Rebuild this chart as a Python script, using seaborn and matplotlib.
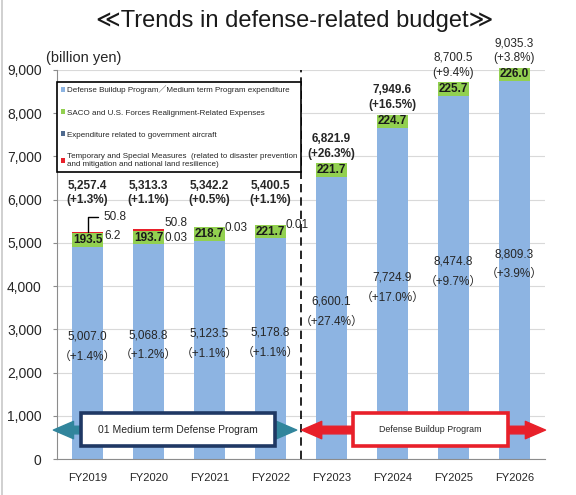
import numpy as np
import pandas as pd
import seaborn as sns
import matplotlib.pyplot as plt
from matplotlib.patches import Patch, Rectangle
from matplotlib.lines import Line2D
from matplotlib.ticker import FuncFormatter

years = ["FY2019", "FY2020", "FY2021", "FY2022", "FY2023", "FY2024", "FY2025", "FY2026"]
base = [5007.0, 5068.8, 5123.5, 5178.8, 6600.1, 7724.9, 8474.8, 8809.3]
base_growth = ["+1.4%", "+1.2%", "+1.1%", "+1.1%", "+27.4%", "+17.0%", "+9.7%", "+3.9%"]
saco = [193.5, 193.7, 218.7, 221.7, 221.7, 224.7, 225.7, 226.0]
aircraft = [6.2, 0.03, 0.03, 0.01, 0, 0, 0, 0]
special = [50.8, 50.8, 0, 0, 0, 0, 0, 0]
totals = [5257.4, 5313.3, 5342.2, 5400.5, 6821.9, 7949.6, 8700.5, 9035.3]
total_growth = ["+1.3%", "+1.1%", "+0.5%", "+1.1%", "+26.3%", "+16.5%", "+9.4%", "+3.8%"]
legend_labels = [
    "Defense Buildup Program／Medium term Program expenditure",
    "SACO and U.S. Forces Realignment-Related Expenses",
    "Expenditure related to government aircraft",
    "Temporary and Special Measures  (related to disaster prevention\nand mitigation and national land resilience)",
]
programs = ["01 Medium term Defense Program", "Defense Buildup Program"]

BLUE = "#8db4e2"
GREEN = "#92d050"
GRAY = "#4f6a8f"
RED = "#e8202a"
TEAL = "#31859c"
NAVY = "#1f3864"
TXT = "#262626"

sns.set_style("white")
plt.rcParams["font.family"] = ["Liberation Sans", "DejaVu Sans", "Noto Sans CJK JP"]

df = pd.DataFrame({"year": years, "base": base, "saco": saco,
                   "aircraft": aircraft, "special": special})
df["lvl1"] = df["base"]
df["lvl2"] = df["lvl1"] + df["saco"]
df["lvl3"] = df["lvl2"] + df["aircraft"]
df["lvl4"] = df["lvl3"] + df["special"]

fig = plt.figure(figsize=(5.76, 4.95), dpi=100)
ax = fig.add_axes([0.099, 0.0727, 0.847, 0.786])

# stacked bars: draw cumulative heights back to front
for col, color in [("lvl4", RED), ("lvl3", GRAY), ("lvl2", GREEN), ("lvl1", BLUE)]:
    sns.barplot(data=df, x="year", y=col, color=color, width=0.5, saturation=1,
                errorbar=None, linewidth=0, ax=ax, zorder=2)

ax.set_xlim(-0.5, 7.5)
ax.set_ylim(0, 9000)
ax.set_yticks(np.arange(0, 9001, 1000))
ax.yaxis.set_major_formatter(FuncFormatter(lambda v, p: f"{v:,.0f}"))
ax.set_xlabel("")
ax.set_ylabel("")
ax.yaxis.grid(True, color="#d9d9d9", lw=0.8)
ax.set_axisbelow(True)
for s in ["top", "right"]:
    ax.spines[s].set_visible(False)
for s in ["left", "bottom"]:
    ax.spines[s].set_color("#8c8c8c")
ax.set_xticks(np.arange(-0.5, 8, 1), minor=True)
ax.tick_params(axis="x", which="major", length=0, labelsize=8, pad=10, labelcolor=TXT)
ax.tick_params(axis="x", which="minor", length=3, color="#8c8c8c", direction="out")
ax.tick_params(axis="y", length=3, color="#8c8c8c", labelsize=10, pad=8, left=True,
               labelcolor=TXT)

# divider between the two programs
ax.plot([3.5, 3.5], [0, 9000], color="black", lw=1.2, ls=(0, (5, 3)), zorder=3)

for i in range(len(years)):
    lvl2 = df["lvl2"][i]
    tot = df["lvl4"][i]
    # base value + growth inside the blue bar
    ax.text(i, base[i] / 2 + 100, f"{base[i]:,.1f}\n（{base_growth[i]}）", ha="center",
            va="center", fontsize=8.5, color=TXT, linespacing=1.9, zorder=4)
    # SACO label on green highlight
    ax.text(i, lvl2 - 140, f"{saco[i]:.1f}", ha="center", va="center", fontsize=8.5,
            fontweight="bold", color="#1a1a1a", zorder=5,
            bbox=dict(facecolor=GREEN, edgecolor="none", pad=0.6))
    # totals
    if i < 4:
        y1, y2 = 6320, 5990
    else:
        y1, y2 = tot + 580, tot + 230
    w = "bold" if i < 6 else "normal"
    ax.text(i, y1, f"{totals[i]:,.1f}", ha="center", va="center", fontsize=8.5,
            fontweight=w, color=TXT, clip_on=False)
    ax.text(i, y2, f"({total_growth[i]})", ha="center", va="center", fontsize=8.5,
            fontweight=w, color=TXT, clip_on=False)
    # small segments
    if special[i] > 0:
        callout = aircraft[i] >= 1
        ry = tot + (330 if callout else 150)
        ay = tot - (100 if callout else 200)
        ax.text(i + 0.27, ry, f"{special[i]:g}", ha="left", va="center",
                fontsize=8.5, color=TXT, zorder=5)
        ax.text(i + 0.27, ay, f"{aircraft[i]:g}", ha="left", va="center",
                fontsize=8.5, color=TXT, zorder=5)
        if callout:
            ax.plot([i, i, i + 0.18], [tot, ry, ry], color="black", lw=1, zorder=5)
    elif aircraft[i] > 0:
        ax.text(i + 0.25, tot + 10, f"{aircraft[i]:g}", ha="left", va="center",
                fontsize=8.5, color=TXT, zorder=5)

# legend
handles = [Patch(facecolor=c, edgecolor="none") for c in [BLUE, GREEN, GRAY, RED]]
leg = ax.legend(handles, legend_labels, loc="upper left", bbox_to_anchor=(0.0, 0.97),
                fontsize=5.8, frameon=True, fancybox=False, edgecolor="black",
                framealpha=1, handlelength=0.5, handleheight=0.5, handletextpad=0.2,
                labelspacing=1.85, borderaxespad=0, borderpad=0.5)
leg.get_frame().set_linewidth(1.2)
leg.get_texts()[3].set_linespacing(1.15)
leg.set_zorder(6)

# program arrows and boxes
arrow_y = 670
def double_arrow(x0, x1, color):
    xm = (x0 + x1) / 2
    for end in (x0, x1):
        ax.annotate("", xy=(end, arrow_y), xytext=(xm, arrow_y),
                    arrowprops=dict(arrowstyle="simple,head_length=1.45,head_width=1.25,tail_width=0.55",
                                    color=color, mutation_scale=10, shrinkA=0, shrinkB=0),
                    annotation_clip=False, zorder=6)

double_arrow(-0.56, 3.43, TEAL)
double_arrow(3.51, 7.51, RED)
ax.add_patch(Rectangle((-0.11, 290), 3.18, 770, facecolor="white", edgecolor=NAVY,
                       lw=2.6, zorder=7))
ax.add_patch(Rectangle((4.36, 290), 2.53, 770, facecolor="white", edgecolor=RED,
                       lw=2.6, zorder=7))
ax.text(1.48, 675, programs[0], ha="center", va="center", fontsize=7.5, color=TXT, zorder=8)
ax.text(5.62, 675, programs[1], ha="center", va="center", fontsize=6.4, color=TXT, zorder=8)

fig.text(0.512, 0.958, "≪Trends in defense-related budget≫", ha="center", va="center",
         fontsize=17, color="#1a1a1a")
fig.text(0.08, 0.883, "(billion yen)", ha="left", va="center", fontsize=10.5, color=TXT)
fig.add_artist(Line2D([0.003, 0.003], [0, 1], color="#c8c8c8", lw=1.2,
                      transform=fig.transFigure))

fig.savefig("out.png", dpi=100)
